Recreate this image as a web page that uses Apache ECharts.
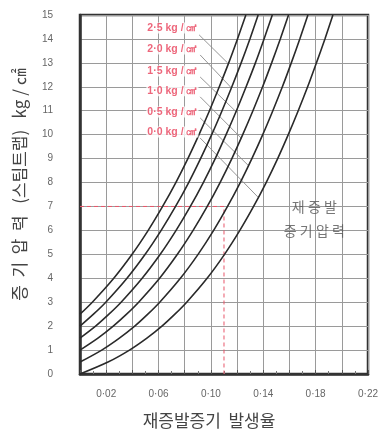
<!DOCTYPE html>
<html><head><meta charset="utf-8">
<script src="https://cdn.jsdelivr.net/npm/echarts@6/dist/echarts.min.js"></script>
<style>html,body{margin:0;padding:0;background:#fff}#c{width:381px;height:434px}</style>
</head><body><div id="c"></div>
<script>
// Curve names (flash steam pressure)
const curveNames = ['0·0 kg / ㎠','0·5 kg / ㎠','1·0 kg / ㎠','1·5 kg / ㎠','2·0 kg / ㎠','2·5 kg / ㎠'];
// [flash rate, steam pressure]
const curve00 = [[0,0],[0.0214,0.5],[0.0378,1],[0.0511,1.5],[0.0626,2],[0.0725,2.5],[0.0815,3],[0.0971,4],[0.1104,5],[0.1221,6],[0.1326,7],[0.1422,8],[0.1510,9],[0.1591,10],[0.1667,11],[0.1739,12],[0.1806,13],[0.1871,14],[0.1932,15]];
const curve05 = [[0,0.5],[0.0166,1],[0.0301,1.5],[0.0418,2],[0.0518,2.5],[0.0609,3],[0.0767,4],[0.0902,5],[0.1021,6],[0.1127,7],[0.1224,8],[0.1313,9],[0.1396,10],[0.1473,11],[0.1546,12],[0.1614,13],[0.1679,14],[0.1741,15]];
const curve10 = [[0,1],[0.0137,1.5],[0.0254,2],[0.0356,2.5],[0.0448,3],[0.0608,4],[0.0744,5],[0.0864,6],[0.0972,7],[0.1070,8],[0.1160,9],[0.1243,10],[0.1321,11],[0.1395,12],[0.1464,13],[0.1530,14],[0.1593,15]];
const curve15 = [[0,1.5],[0.0119,2],[0.0221,2.5],[0.0314,3],[0.0475,4],[0.0613,5],[0.0734,6],[0.0843,7],[0.0942,8],[0.1033,9],[0.1116,10],[0.1195,11],[0.1269,12],[0.1340,13],[0.1406,14],[0.1469,15]];
const curve20 = [[0,2],[0.0103,2.5],[0.0197,3],[0.0359,4],[0.0498,5],[0.0620,6],[0.0730,7],[0.0830,8],[0.0921,9],[0.1006,10],[0.1085,11],[0.1160,12],[0.1231,13],[0.1298,14],[0.1361,15]];
const curve25 = [[0,2.5],[0.0094,3],[0.0258,4],[0.0398,5],[0.0521,6],[0.0631,7],[0.0732,8],[0.0824,9],[0.0909,10],[0.0989,11],[0.1064,12],[0.1136,13],[0.1203,14],[0.1267,15]];
const curves = [curve00, curve05, curve10, curve15, curve20, curve25];
// Example reading (red dashed)
const exampleRead = [[0,7],[0.11,7],[0.11,0]];
// Axis ticks
const xTickValues = [0.02,0.06,0.10,0.14,0.18,0.22];
const xTickLabels = ['0·02','0·06','0·10','0·14','0·18','0·22'];
const yTickLabels = ['0','1','2','3','4','5','6','7','8','9','10','11','12','13','14','15'];
// Annotation anchors
const labelAnchors = [[0.0905,10.11],[0.0905,10.95],[0.0905,11.83],[0.0905,12.66],[0.0905,13.58],[0.0905,14.46]];
const leaderLines = [
  [[0.0918,9.86],[0.1358,7.40]],
  [[0.0918,10.70],[0.1290,8.69]],
  [[0.0918,11.58],[0.1231,9.86]],
  [[0.0918,12.41],[0.1194,10.95]],
  [[0.0918,13.33],[0.1157,11.95]],
  [[0.0910,14.17],[0.1127,13.00]]
];
const noteAnchor = [0.1790, 6.50];
const noteText = '재 증 발\n증 기 압 력';

const chart = echarts.init(document.getElementById('c'), null, {renderer:'canvas'});
const series = [];
curves.forEach((d,i)=>{
  series.push({type:'line', name:curveNames[i], data:d, smooth:0.3, symbol:'none', clip:true,
    lineStyle:{color:'#2a2a2a', width:1.6}, z:4, silent:true});
});
leaderLines.forEach(d=>{
  series.push({type:'line', data:d, symbol:'none', lineStyle:{color:'#8a8a8a', width:0.9}, z:3, silent:true});
});
series.push({type:'line', data:exampleRead, symbol:'none', lineStyle:{color:'#e8566a', width:1, type:[4,3]}, z:3, silent:true});
series.push({type:'scatter', data:labelAnchors, symbolSize:0, silent:true, z:5,
  label:{show:true, position:'left', distance:0, formatter:p=>curveNames[p.dataIndex],
    color:'#e8405a', fontSize:10.5, fontWeight:'bold', fontFamily:'Liberation Sans, Arial, sans-serif',
    backgroundColor:'#fff', padding:[0,1,0,1]}});
series.push({type:'scatter', data:[noteAnchor], symbolSize:0, silent:true, z:5,
  label:{show:true, position:'inside', formatter:noteText, color:'#555', fontSize:14, lineHeight:24,
    align:'center', fontFamily:'Noto Sans CJK KR'}});

chart.setOption({
  animation:false,
  backgroundColor:'#fff',
  grid:{left:80, right:6, top:15, bottom:60, show:true, borderColor:'#333', borderWidth:2.5, backgroundColor:'transparent'},
  xAxis:{type:'value', min:0, max:0.22, interval:0.02,
    axisLine:{show:true, lineStyle:{color:'#333', width:2.5}},
    axisTick:{show:true, inside:true, length:4, lineStyle:{color:'#555'}},
    minorTick:{show:true, splitNumber:2, length:3, lineStyle:{color:'#777'}},
    splitLine:{show:true, lineStyle:{color:'#9a9a9a', width:1}},
    axisLabel:{margin:15, color:'#666', fontSize:10, fontFamily:'Liberation Sans, Arial, sans-serif',
      formatter:v=>{const i=xTickValues.findIndex(t=>Math.abs(t-v)<1e-6); return i>=0?xTickLabels[i]:'';}},
    name:'재증발증기  발생율', nameLocation:'middle', nameGap:38,
    nameTextStyle:{color:'#444', fontSize:17, fontFamily:'Noto Sans CJK KR', padding:[0,30,0,0]}
  },
  yAxis:{type:'value', min:0, max:15, interval:1,
    axisLine:{show:true, lineStyle:{color:'#333', width:2.5}},
    axisTick:{show:false},
    splitLine:{show:true, lineStyle:{color:'#9a9a9a', width:1}},
    axisLabel:{margin:27, color:'#666', fontSize:10, fontFamily:'Liberation Sans, Arial, sans-serif',
      formatter:v=>yTickLabels[Math.round(v)] || ''},
    name:'증  기  압  력   (스팀트랩)   kg / ㎠', nameLocation:'middle', nameGap:52, nameRotate:90,
    nameTextStyle:{color:'#444', fontSize:17, fontFamily:'Noto Sans CJK KR', padding:[0,0,0,20]}
  },
  series:series
});
</script></body></html>
